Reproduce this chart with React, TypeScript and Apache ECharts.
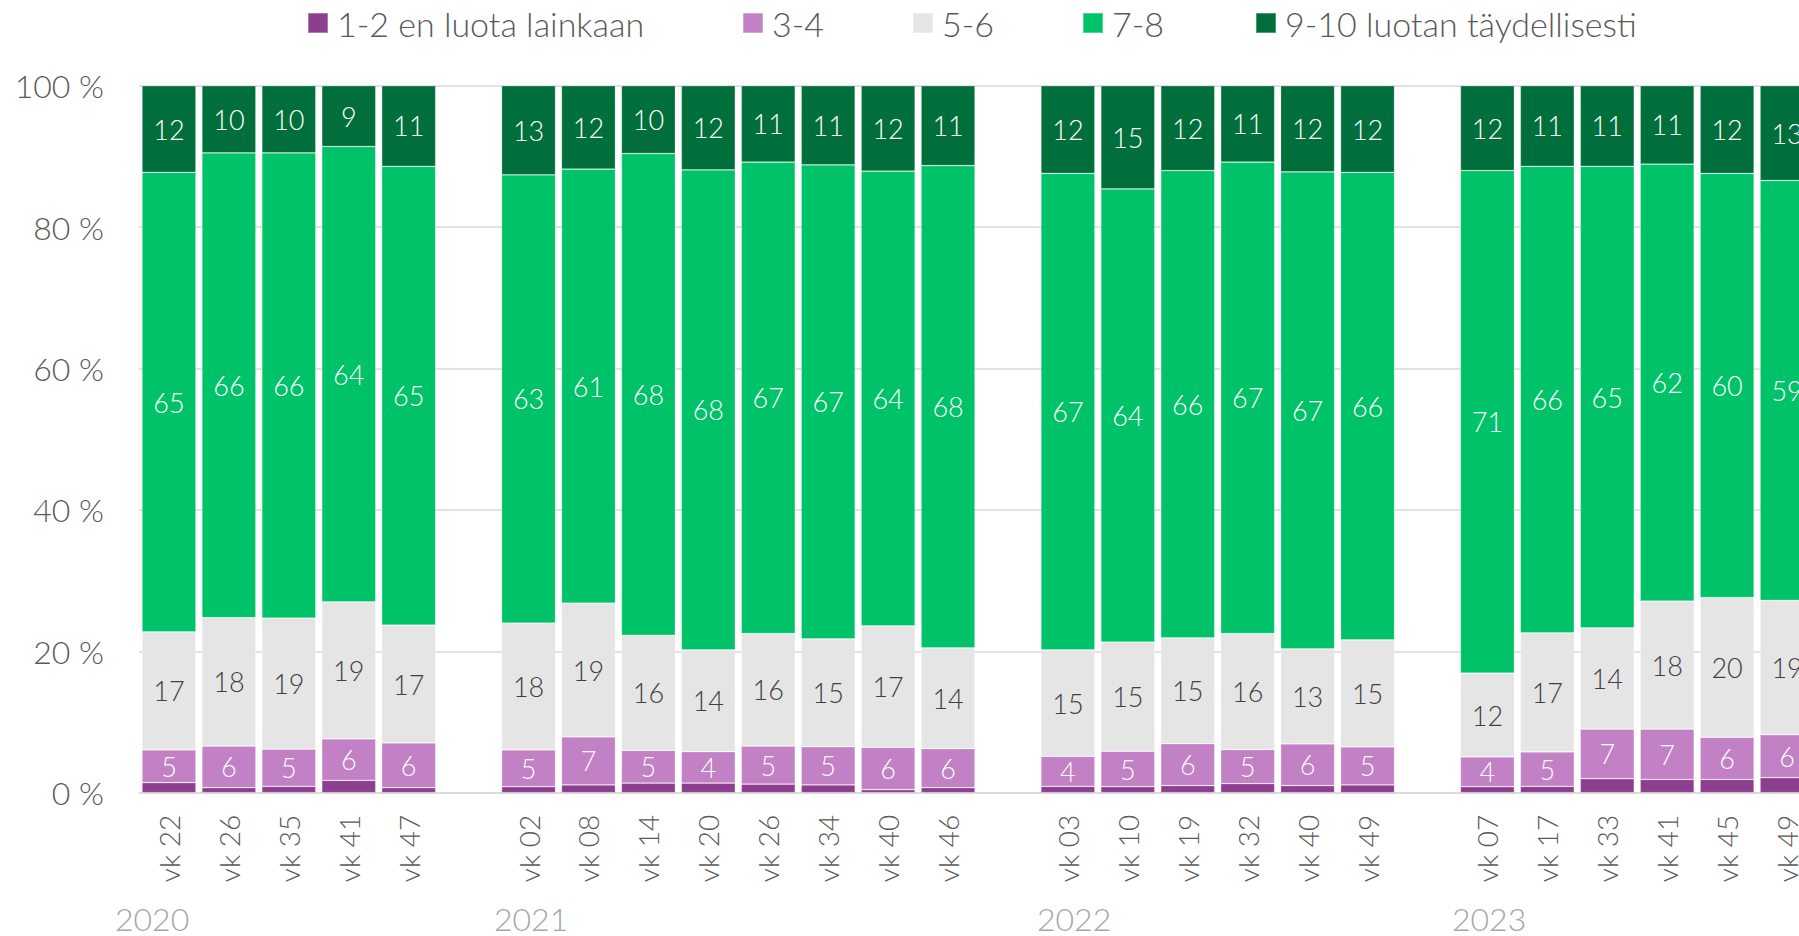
import React, { useEffect, useRef } from "react";
import * as echarts from "echarts";

// Categories (empty strings are the gaps between years)
const categories = [
  "vk 22", "vk 26", "vk 35", "vk 41", "vk 47", "",
  "vk 02", "vk 08", "vk 14", "vk 20", "vk 26", "vk 34", "vk 40", "vk 46", "",
  "vk 03", "vk 10", "vk 19", "vk 32", "vk 40", "vk 49", "",
  "vk 07", "vk 17", "vk 33", "vk 41", "vk 45", "vk 49",
];

const years = ["2020", "2021", "2022", "2023"];

const seriesNames = [
  "1-2 en luota lainkaan",
  "3-4",
  "5-6",
  "7-8",
  "9-10 luotan täydellisesti",
];

// Shares in percent (null = gap between years)
const values12 = [
  1.42, 0.71, 0.9, 1.75, 0.71, null,
  0.85, 1.09, 1.37, 1.37, 1.23, 1.09, 0.43, 0.71, null,
  0.9, 0.85, 1.0, 1.28, 1.0, 1.09, null,
  0.85, 0.9, 1.98, 1.88, 1.88, 2.12,
];
const values34 = [
  4.62, 5.89, 5.28, 5.85, 6.32, null,
  5.19, 6.79, 4.63, 4.43, 5.37, 5.41, 5.99, 5.52, null,
  4.25, 5.0, 5.93, 4.82, 5.9, 5.38, null,
  4.2, 4.86, 7.02, 7.12, 5.95, 6.08,
];
const values56 = [
  16.69, 18.15, 18.52, 19.4, 16.67, null,
  17.96, 18.92, 16.26, 14.4, 15.9, 15.24, 17.18, 14.24, null,
  15.05, 15.45, 14.97, 16.4, 13.45, 15.13, null,
  11.88, 16.84, 14.3, 18.1, 19.77, 19.0,
];
const values78 = [
  65.02, 65.75, 65.8, 64.4, 64.9, null,
  63.4, 61.4, 68.14, 67.9, 66.7, 67.06, 64.3, 68.23, null,
  67.4, 64.1, 66.1, 66.7, 67.45, 66.15, null,
  71.07, 66.0, 65.3, 61.8, 60.0, 59.4,
];
const values910 = [
  12.25, 9.5, 9.5, 8.6, 11.4, null,
  12.6, 11.8, 9.6, 11.9, 10.8, 11.2, 12.1, 11.3, null,
  12.4, 14.6, 12.0, 10.8, 12.2, 12.25, null,
  12.0, 11.4, 11.4, 11.1, 12.4, 13.4,
];

const yTicks = [0, 20, 40, 60, 80, 100];

const FONT = "Lato, 'Open Sans', sans-serif";
const colors = ["#8C3F8E", "#C280C5", "#E5E5E5", "#00C268", "#006F3B"];
const labelColors = ["#ffffff", "#ffffff", "#404040", "#ffffff", "#ffffff"];
const legendLefts = [307, 742, 912, 1082, 1255];
const yearLefts = [115, 494, 1037, 1452];

export default function App() {
  const ref = useRef<HTMLDivElement>(null);

  useEffect(() => {
    if (!ref.current) return;
    const chart = echarts.init(ref.current, null, { renderer: "svg" });
    const allValues = [values12, values34, values56, values78, values910];

    const series = allValues.map((vals, i) => ({
      name: seriesNames[i],
      type: "bar",
      stack: "total",
      barWidth: 54,
      data: vals,
      itemStyle: {
        color: colors[i],
        borderColor: "rgba(255,255,255,0.3)",
        borderWidth: 0.75,
      },
      label: {
        show: i !== 0,
        position: "inside",
        color: labelColors[i],
        fontFamily: FONT,
        fontWeight: 300,
        fontSize: 27,
        textBorderWidth: 0,
        formatter: (p: any) => (p.value == null ? "" : String(Math.round(p.value))),
      },
      emphasis: { disabled: true },
    }));

    const legends = seriesNames.map((n, i) => ({
      data: [n],
      left: legendLefts[i],
      top: 3,
      padding: 0,
      itemGap: 0,
      itemWidth: 20,
      itemHeight: 20,
      icon: "rect",
      selectedMode: false,
      textStyle: {
        fontFamily: FONT,
        fontWeight: 300,
        fontSize: 34,
        lineHeight: 40,
        color: "#595959",
        padding: [0, 0, 0, 4],
      },
    }));

    chart.setOption({
      animation: false,
      backgroundColor: "#ffffff",
      legend: legends,
      grid: { left: 139, top: 85.7, width: 1678, height: 707 },
      xAxis: {
        type: "category",
        data: categories,
        axisLine: { show: true, lineStyle: { color: "#D9D9D9", width: 1.5 } },
        axisTick: { show: false },
        axisLabel: {
          rotate: 90,
          interval: 0,
          margin: 22,
          fontFamily: FONT,
          fontWeight: 300,
          fontSize: 28,
          color: "#595959",
        },
      },
      yAxis: {
        type: "value",
        min: yTicks[0],
        max: yTicks[yTicks.length - 1],
        interval: yTicks[1] - yTicks[0],
        axisLine: { show: false },
        axisTick: { show: false },
        splitLine: { lineStyle: { color: "#D9D9D9", width: 1.5 } },
        axisLabel: {
          margin: 35,
          fontFamily: FONT,
          fontWeight: 300,
          fontSize: 32,
          color: "#595959",
          formatter: (v: number) => `${v} %`,
        },
      },
      graphic: years.map((y, i) => ({
        type: "text",
        left: yearLefts[i],
        top: 902,
        silent: true,
        style: {
          text: y,
          fontFamily: FONT,
          fontWeight: 300,
          fontSize: 32,
          fill: "#A6A6A6",
        },
      })),
      series,
    });

    return () => chart.dispose();
  }, []);

  return (
    <div
      style={{
        position: "fixed",
        left: 0,
        top: 0,
        width: 1799,
        height: 936,
        overflow: "hidden",
        background: "#fff",
      }}
    >
      <div ref={ref} style={{ width: 1830, height: 936 }} />
    </div>
  );
}
